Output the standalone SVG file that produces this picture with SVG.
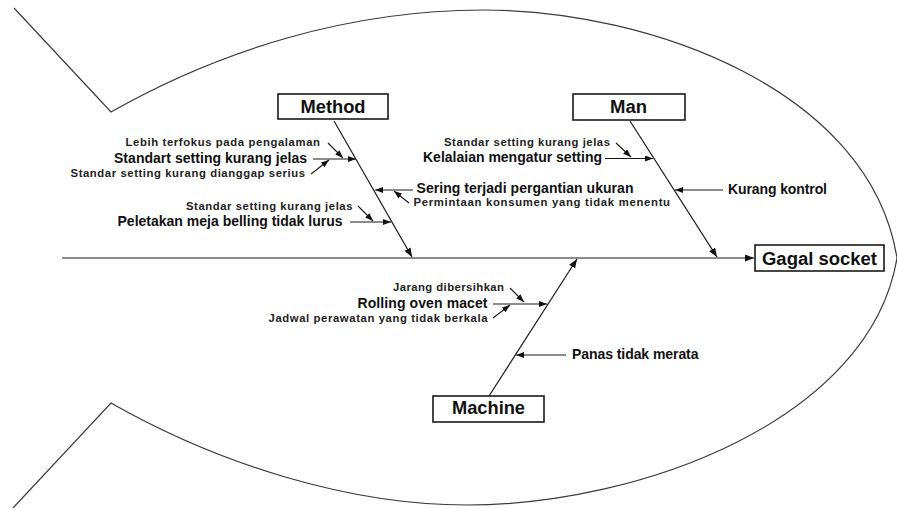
<svg xmlns="http://www.w3.org/2000/svg" width="897" height="508" viewBox="0 0 897 508">
<style>
.outline{fill:none;stroke:#3a3a3a;stroke-width:1.2}
.box{fill:#fff;stroke:#1a1a1a;stroke-width:1.6}
.lbl{font-family:"Liberation Sans",Arial,sans-serif;font-weight:bold;fill:#111}
.t16{font-size:18px}
.t14{font-size:14px}
.t10{font-size:11.3px;fill:#222}
.bone{fill:none;stroke:#1a1a1a;stroke-width:1.2}
.sub{fill:none;stroke:#1a1a1a;stroke-width:1.1}
</style>
<defs>
<marker id="ah" markerUnits="userSpaceOnUse" markerWidth="10" markerHeight="8" refX="9" refY="3.5" orient="auto">
<path d="M0,0 L9,3.5 L0,7 z" fill="#111"/>
</marker>
<marker id="ahs" markerUnits="userSpaceOnUse" markerWidth="9" markerHeight="7" refX="8" refY="3" orient="auto">
<path d="M0,0 L8,3 L0,6 z" fill="#111"/>
</marker>
</defs>
<rect width="897" height="508" fill="#fff"/>
<g id="fish-outline">
<path class="outline" d="M14,8 L111,112 C220,50 350,10 483,10 C650,10 870,90 897,258"/>
<path class="outline" d="M13,508 L111,403 C220,465 350,505 467,505 C640,505 870,420 897,258"/>
</g>
<g id="connectors">
<path class="bone" d="M62,258 H754" marker-end="url(#ah)"/>
<path class="bone" d="M334,121 L412,257" marker-end="url(#ah)"/>
<path class="bone" d="M630,121 L717,257" marker-end="url(#ah)"/>
<path class="bone" d="M489,396 L577,259" marker-end="url(#ah)"/>
<path class="sub" d="M313,159 H356" marker-end="url(#ahs)"/>
<path class="sub" d="M328,143 L343,158" marker-end="url(#ahs)"/>
<path class="sub" d="M311,174 L329,160" marker-end="url(#ahs)"/>
<path class="sub" d="M413,190 H375" marker-end="url(#ahs)"/>
<path class="sub" d="M409,203 L394,191" marker-end="url(#ahs)"/>
<path class="sub" d="M358,206 L373,221" marker-end="url(#ahs)"/>
<path class="sub" d="M350,222 H391" marker-end="url(#ahs)"/>
<path class="sub" d="M616,143 L631,157" marker-end="url(#ahs)"/>
<path class="sub" d="M605,158.5 H653" marker-end="url(#ahs)"/>
<path class="sub" d="M723,190 H675" marker-end="url(#ahs)"/>
<path class="sub" d="M510,288 L524,302" marker-end="url(#ahs)"/>
<path class="sub" d="M493,304 H547" marker-end="url(#ahs)"/>
<path class="sub" d="M493,318 L510,305" marker-end="url(#ahs)"/>
<path class="sub" d="M566,355 H516" marker-end="url(#ahs)"/>
</g>
<g id="method">
<rect class="box" x="278" y="94" width="110" height="25"/>
<text class="lbl t16" x="300.5" y="113" textLength="65" lengthAdjust="spacingAndGlyphs">Method</text>
</g>
<g id="man">
<rect class="box" x="573" y="94" width="112" height="26"/>
<text class="lbl t16" x="610" y="113" textLength="37" lengthAdjust="spacingAndGlyphs">Man</text>
</g>
<g id="machine">
<rect class="box" x="433" y="396" width="111" height="26"/>
<text class="lbl t16" x="452" y="414" textLength="73" lengthAdjust="spacingAndGlyphs">Machine</text>
</g>
<g id="gagal-socket">
<rect class="box" x="755" y="245" width="129" height="26"/>
<text class="lbl t16" x="762" y="264.5" textLength="115" lengthAdjust="spacingAndGlyphs">Gagal socket</text>
</g>
<g id="cause-lebih-terfokus">
<text class="lbl t10" x="125.5" y="146" textLength="194.5" lengthAdjust="spacing">Lebih terfokus pada pengalaman</text>
</g>
<g id="cause-standart-setting">
<text class="lbl t14" x="114" y="162.5" textLength="193" lengthAdjust="spacing">Standart setting kurang jelas</text>
</g>
<g id="cause-dianggap-serius">
<text class="lbl t10" x="70.5" y="176.5" textLength="234.5" lengthAdjust="spacing">Standar setting kurang dianggap serius</text>
</g>
<g id="cause-sering-terjadi">
<text class="lbl t14" x="416.5" y="193" textLength="217" lengthAdjust="spacing">Sering terjadi pergantian ukuran</text>
</g>
<g id="cause-permintaan">
<text class="lbl t10" x="413.5" y="205.5" textLength="256.5" lengthAdjust="spacing">Permintaan konsumen yang tidak menentu</text>
</g>
<g id="cause-method-standar-jelas">
<text class="lbl t10" x="186" y="209.5" textLength="166.5" lengthAdjust="spacing">Standar setting kurang jelas</text>
</g>
<g id="cause-peletakan">
<text class="lbl t14" x="117.5" y="225.5" textLength="225" lengthAdjust="spacing">Peletakan meja belling tidak lurus</text>
</g>
<g id="cause-man-standar-jelas">
<text class="lbl t10" x="444" y="145.5" textLength="166" lengthAdjust="spacing">Standar setting kurang jelas</text>
</g>
<g id="cause-kelalaian">
<text class="lbl t14" x="423" y="162" textLength="179" lengthAdjust="spacing">Kelalaian mengatur setting</text>
</g>
<g id="cause-kurang-kontrol">
<text class="lbl t14" x="728" y="194" textLength="99" lengthAdjust="spacing">Kurang kontrol</text>
</g>
<g id="cause-jarang">
<text class="lbl t10" x="393" y="290.5" textLength="111" lengthAdjust="spacing">Jarang dibersihkan</text>
</g>
<g id="cause-rolling">
<text class="lbl t14" x="357.5" y="307.5" textLength="130" lengthAdjust="spacing">Rolling oven macet</text>
</g>
<g id="cause-jadwal">
<text class="lbl t10" x="268.5" y="322" textLength="219" lengthAdjust="spacing">Jadwal perawatan yang tidak berkala</text>
</g>
<g id="cause-panas">
<text class="lbl t14" x="572" y="358.5" textLength="126.5" lengthAdjust="spacing">Panas tidak merata</text>
</g>
</svg>
